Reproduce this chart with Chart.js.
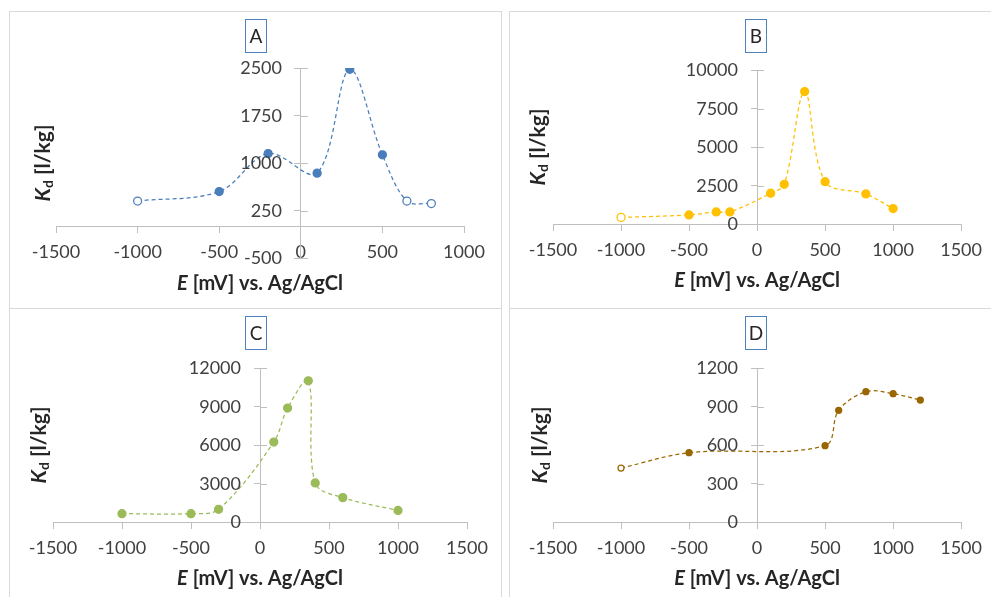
<!DOCTYPE html>
<html>
<head>
<meta charset="utf-8">
<title>Kd vs E</title>
<script src="https://cdn.jsdelivr.net/npm/chart.js@4.4.1/dist/chart.umd.min.js"></script>
<style>
  html,body{margin:0;padding:0;background:#fff}
  body{position:relative;width:991px;height:597px;overflow:hidden}
  .panel{position:absolute;box-sizing:border-box;border:1px solid #d9d9d9}
  canvas{position:absolute}
</style>
</head>
<body>
<div class="panel" style="left:9px;top:11px;width:493px;height:298px"></div>
<div class="panel" style="left:509px;top:11px;width:500px;height:298px"></div>
<div class="panel" style="left:9px;top:308px;width:493px;height:300px"></div>
<div class="panel" style="left:509px;top:308px;width:500px;height:300px"></div>
<canvas id="chartA" width="493" height="298" style="left:9px;top:11px"></canvas>
<canvas id="chartB" width="482" height="298" style="left:509px;top:11px"></canvas>
<canvas id="chartC" width="493" height="289" style="left:9px;top:308px"></canvas>
<canvas id="chartD" width="482" height="289" style="left:509px;top:308px"></canvas>
<script>
// E [mV] vs Ag/AgCl and Kd [l/kg]
const aE   = [-1000, -500, -200, 100, 300, 500, 650, 800];
const aKd  = [400, 550, 1150, 840, 2480, 1130, 400, 360];
const aOpen = [true, false, false, false, false, false, true, true];

const bE   = [-1000, -500, -300, -200, 100, 200, 350, 500, 800, 1000];
const bKd  = [430, 590, 780, 780, 2000, 2580, 8600, 2750, 1950, 1000];
const bOpen = [true, false, false, false, false, false, false, false, false, false];

const cE   = [-1000, -500, -300, 100, 200, 350, 400, 600, 1000];
const cKd  = [650, 650, 990, 6230, 8880, 11000, 3040, 1900, 900];
const cOpen = [false, false, false, false, false, false, false, false, false];

const dE   = [-1000, -500, 500, 600, 800, 1000, 1200];
const dKd  = [420, 540, 595, 870, 1015, 1000, 950];
const dOpen = [true, false, false, false, false, false, false];

// tick labels
const aXTicks = [-1500, -1000, -500, 0, 500, 1000];
const aYTicks = [-500, 250, 1000, 1750, 2500];
const bXTicks = [-1500, -1000, -500, 0, 500, 1000, 1500];
const bYTicks = [0, 2500, 5000, 7500, 10000];
const cXTicks = [-1500, -1000, -500, 0, 500, 1000, 1500];
const cYTicks = [0, 3000, 6000, 9000, 12000];
const dXTicks = [-1500, -1000, -500, 0, 500, 1000, 1500];
const dYTicks = [0, 300, 600, 900, 1200];

Chart.defaults.font.family = 'Lato, "Open Sans", sans-serif';
Chart.defaults.color = '#404040';

const axisGray = '#bfbfbf';
const titleColor = '#262626';
const tickFont = '18px Lato';
const xTitle = [
  {t: 'E', f: 'italic bold 20px Lato'},
  {t: ' [mV] vs. Ag/AgCl', f: 'bold 20px Lato'}
];
const yTitle = [
  {t: 'K', f: 'italic bold 21px Lato'},
  {t: 'd', f: 'bold 14px Lato', dy: 5},
  {t: ' [l/kg]', f: 'bold 21px Lato'}
];

function drawRuns(ctx, runs, cx, cy){
  ctx.textAlign = 'left';
  ctx.textBaseline = 'middle';
  let total = 0;
  runs.forEach(r => { ctx.font = r.f; r.w = ctx.measureText(r.t).width; total += r.w; });
  let x = cx - total / 2;
  runs.forEach(r => { ctx.font = r.f; ctx.fillText(r.t, x, cy + (r.dy || 0)); x += r.w; });
}

const panelDecor = {
  id: 'panelDecor',
  afterDraw(chart, args, opts){
    const {ctx, chartArea} = chart;
    const xs = chart.scales.x, ys = chart.scales.y;
    const axisX = Math.round(xs.getPixelForValue(0));
    const axisY = ys.getPixelForValue(0);
    ctx.save();
    // right half of the cross tick marks, and the labels, on the vertical axis
    ctx.strokeStyle = axisGray;
    ctx.lineWidth = 1;
    ctx.fillStyle = '#404040';
    ctx.font = tickFont;
    ctx.textAlign = 'right';
    ctx.textBaseline = 'middle';
    ys.ticks.forEach(t => {
      const py = Math.round(ys.getPixelForValue(t.value)) + 0.5;
      ctx.beginPath();
      ctx.moveTo(axisX, py);
      ctx.lineTo(axisX + 7, py);
      ctx.stroke();
      ctx.fillText(String(t.value), axisX - 19, py);
    });
    // panel letter box
    ctx.strokeStyle = '#4f81bd';
    ctx.strokeRect(236.5, 8.5, 21, 33);
    ctx.fillStyle = titleColor;
    ctx.font = '19px Lato';
    ctx.textAlign = 'center';
    ctx.fillText(opts.letter, 247, 26);
    // axis titles
    drawRuns(ctx, xTitle, (chartArea.left + chartArea.right) / 2, axisY + 57);
    ctx.translate(opts.yTitleX, (chartArea.top + chartArea.bottom) / 2);
    ctx.rotate(-Math.PI / 2);
    drawRuns(ctx, yTitle, 0, 0);
    ctx.restore();
  }
};

function makeChart(id, xs, ys, open, color, radius, xTicks, yTicks, pad, letter, yTitleX){
  const pts = xs.map((x, i) => ({x, y: ys[i]}));
  return new Chart(document.getElementById(id), {
    type: 'scatter',
    data: {
      datasets: [{
        data: pts,
        showLine: true,
        tension: 0.35,
        borderColor: color,
        borderWidth: 1.25,
        borderDash: [4, 3],
        pointRadius: radius,
        pointBorderWidth: 1.25,
        pointBorderColor: color,
        pointBackgroundColor: open.map(o => o ? '#ffffff' : color)
      }]
    },
    options: {
      responsive: false,
      animation: false,
      events: [],
      layout: {padding: pad},
      plugins: {
        legend: {display: false},
        tooltip: {enabled: false},
        panelDecor: {letter, yTitleX}
      },
      scales: {
        x: {
          type: 'linear',
          position: {y: 0},
          min: xTicks[0],
          max: xTicks[xTicks.length - 1],
          afterBuildTicks: s => { s.ticks = xTicks.map(v => ({value: v})); },
          afterFit: s => { s.height = 0; },
          grid: {drawOnChartArea: false, drawTicks: true, tickLength: 6, color: axisGray},
          border: {color: axisGray, width: 1},
          ticks: {font: {size: 18}, padding: 9, maxRotation: 0, autoSkip: false, callback: v => String(v)}
        },
        y: {
          type: 'linear',
          position: {x: 0},
          min: yTicks[0],
          max: yTicks[yTicks.length - 1],
          afterBuildTicks: s => { s.ticks = yTicks.map(v => ({value: v})); },
          afterFit: s => { s.width = 0; },
          grid: {drawOnChartArea: false, drawTicks: true, tickLength: 6, color: axisGray},
          border: {color: axisGray, width: 1},
          ticks: {display: false}
        }
      }
    },
    plugins: [panelDecor]
  });
}

makeChart('chartA', aE, aKd, aOpen, '#4a7ebb', 4, aXTicks, aYTicks,
  {left: 47, right: 38, top: 57, bottom: 51}, 'A', 34);
makeChart('chartB', bE, bKd, bOpen, '#ffc000', 4, bXTicks, bYTicks,
  {left: 44, right: 25, top: 59, bottom: 85}, 'B', 29);
makeChart('chartC', cE, cKd, cOpen, '#9bbb59', 4, cXTicks, cYTicks,
  {left: 44, right: 35, top: 60, bottom: 75}, 'C', 30);
makeChart('chartD', dE, dKd, dOpen, '#996600', 3, dXTicks, dYTicks,
  {left: 44, right: 25, top: 60, bottom: 75}, 'D', 31);
</script>
</body>
</html>
